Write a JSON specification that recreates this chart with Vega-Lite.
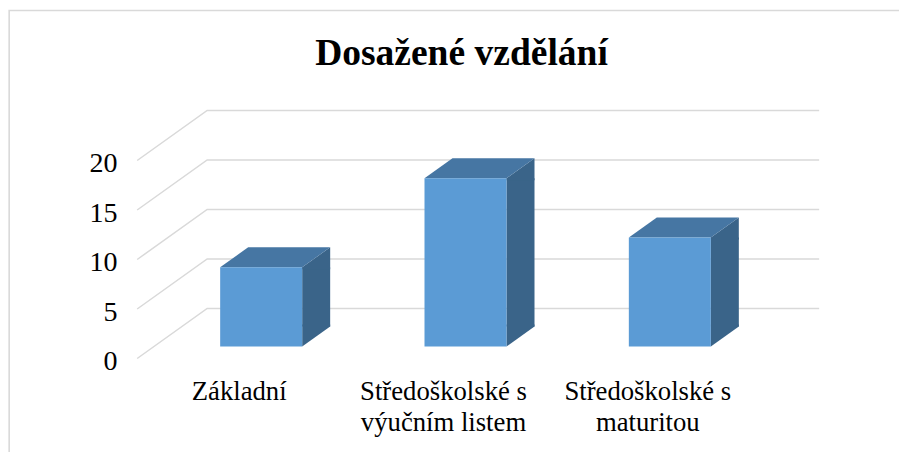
{
"$schema":"https://vega.github.io/schema/vega-lite/v6.json",
"width":899,"height":452,"padding":0,"autosize":{"type":"none"},
"background":"#ffffff",
"view":{"stroke":null},
"title":{"text":"Dosažené vzdělání","font":"Liberation Serif","fontSize":37.5,"fontWeight":"bold","color":"#000000","anchor":"middle","frame":"group","dx":12,"dy":102,"offset":0,"baseline":"alphabetic"},
"datasets":{
"vzdelani":[{"kategorie":"Základní","hodnota":8},{"kategorie":"Středoškolské s výučním listem","hodnota":17},{"kategorie":"Středoškolské s maturitou","hodnota":11}],
"mrizka":[{"kategorie":"Základní","uroven":0},{"kategorie":"Základní","uroven":5},{"kategorie":"Základní","uroven":10},{"kategorie":"Základní","uroven":15},{"kategorie":"Základní","uroven":20}],
"ram":[{"kategorie":"Základní","uroven":20}]
},
"data":{"name":"vzdelani"},
"encoding":{
"x":{"field":"kategorie","type":"nominal","sort":null,"title":null,
"scale":{"domain":["Základní","Středoškolské s výučním listem","Středoškolské s maturitou"],"range":[137,750],"paddingInner":0,"paddingOuter":0},
"axis":{"orient":"bottom","domain":false,"ticks":false,"labelAngle":0,"labelPadding":0,"offset":-74,"labelBaseline":"top","labelFont":"Liberation Serif","labelFontSize":26.7,"labelColor":"#000000","labelLineHeight":31,"labelLimit":300,"labelExpr":"indexof(datum.label,' s ')>0 ? [substring(datum.label,0,indexof(datum.label,' s ')+2), substring(datum.label,indexof(datum.label,' s ')+3)] : datum.label"}},
"y":{"field":"hodnota","type":"quantitative","title":null,
"scale":{"domain":[0,20],"range":[358.5,160.5],"nice":false,"zero":true},
"axis":{"orient":"left","domain":false,"ticks":false,"grid":false,"values":[0,5,10,15,20],"labelPadding":0,"labelOffset":3,"offset":-117,"labelFont":"Liberation Serif","labelFontSize":28,"labelColor":"#000000"}}
},
"layer":[
{"data":{"name":"ram"},
 "mark":{"type":"point","shape":"M-230,302L-230,-150L660,-150","size":4,"filled":false,"stroke":"#d9d9d9","strokeWidth":1.6,"opacity":1},
 "encoding":{"y":{"field":"uroven","type":"quantitative"}}},
{"data":{"name":"mrizka"},
 "mark":{"type":"point","shape":"M-102,0L-32,-50L580,-50","size":4,"filled":false,"stroke":"#d9d9d9","strokeWidth":1.5,"opacity":1},
 "encoding":{"y":{"field":"uroven","type":"quantitative"}}},
{"mark":{"type":"bar","width":28,"xOffset":77,"yOffset":-12,"y2Offset":-32,"color":"#3a6489"},
 "encoding":{"y2":{"datum":0}}},
{"mark":{"type":"point","shape":"M63,-12L91,-32L91,-10L63,-10Z","size":4,"filled":true,"fill":"#3a6489","strokeWidth":0,"opacity":1}},
{"mark":{"type":"point","shape":"M63,-12L91,-32L91,-34L63,-34Z","size":4,"filled":true,"fill":"#3a6489","strokeWidth":0,"opacity":1},
 "encoding":{"y":{"datum":0}}},
{"mark":{"type":"point","shape":"M-19,-12L9,-32L91,-32L63,-12Z","size":4,"filled":true,"fill":"#4676a3","strokeWidth":0,"opacity":1}},
{"mark":{"type":"bar","width":82,"xOffset":22,"yOffset":-12,"y2Offset":-12,"color":"#5b9bd5"},
 "encoding":{"y2":{"datum":0}}}
]
}
